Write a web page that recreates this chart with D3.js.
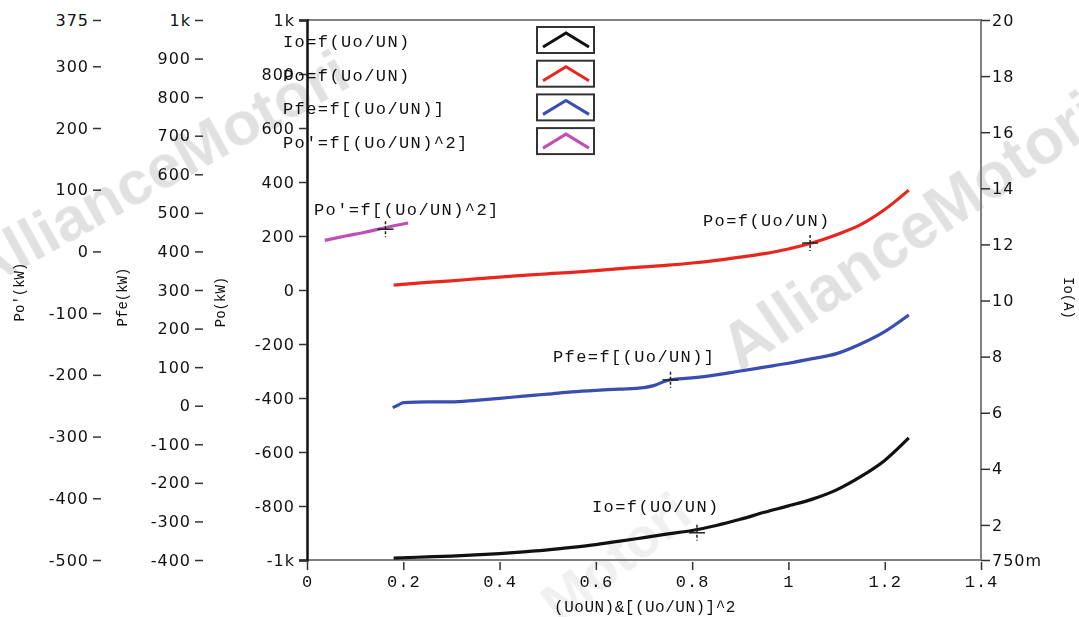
<!DOCTYPE html>
<html>
<head>
<meta charset="utf-8">
<script src="https://cdn.jsdelivr.net/npm/d3@7"></script>
<style>
  body { margin: 0; background: #fff; }
  svg { display: block; }
  .tick text { font-family: "DejaVu Sans", sans-serif; font-size: 16px; fill: #111; letter-spacing: 1px; }
  .mono { font-family: "Liberation Mono", "DejaVu Sans Mono", monospace; fill: #111; }
</style>
</head>
<body>
<svg id="chart" width="1079" height="617"></svg>
<script>
// ---- data ----
var ioX  = [0.18,0.25,0.3,0.35,0.4,0.45,0.5,0.55,0.6,0.65,0.7,0.75,0.8,0.85,0.9,0.95,1.0,1.05,1.1,1.15,1.2,1.25];
var ioY  = [0.82,0.86,0.89,0.93,0.98,1.04,1.11,1.2,1.3,1.42,1.55,1.68,1.8,1.98,2.2,2.45,2.68,2.92,3.25,3.72,4.3,5.1];

var poX  = [0.18,0.25,0.3,0.35,0.4,0.45,0.5,0.55,0.6,0.65,0.7,0.75,0.8,0.85,0.9,0.95,1.0,1.05,1.1,1.15,1.2,1.25];
var poY  = [18,28,34,41,48,54,60,65,72,79,86,92,100,110,122,135,152,175,205,242,298,370];

var pfeX = [0.178,0.19,0.2,0.25,0.3,0.35,0.4,0.45,0.5,0.55,0.6,0.65,0.7,0.72,0.75,0.8,0.85,0.9,0.95,1.0,1.05,1.1,1.15,1.2,1.25];
var pfeY = [-5,2,8,10,10,14,19,25,30,36,40,43,47,52,66,72,80,90,100,110,122,135,160,192,235];

var po2X = [0.037,0.08,0.12,0.16,0.21];
var po2Y = [18,25,31,38,46];

var xTicks   = [0,0.2,0.4,0.6,0.8,1,1.2,1.4];
var poTicks  = [1000,800,600,400,200,0,-200,-400,-600,-800,-1000];
var pfeTicks = [1000,900,800,700,600,500,400,300,200,100,0,-100,-200,-300,-400];
var po2Ticks = [375,300,200,100,0,-100,-200,-300,-400,-500];
var ioTicks  = [20,18,16,14,12,10,8,6,4,2,0.75];

var legendNames = ["Io=f(Uo/UN)","Po=f(Uo/UN)","Pfe=f[(Uo/UN)]","Po'=f[(Uo/UN)^2]"];
var colors = ["#111111","#e8261e","#3a4db0","#c04fb4"];

// ---- drawing ----
var svg = d3.select("#chart");
var mL = 307, mR = 981, mT = 20, mB = 560;

var x    = d3.scaleLinear().domain([0,1.4]).range([mL,mR]);
var yPo  = d3.scaleLinear().domain([-1000,1000]).range([mB,mT]);
var yPfe = d3.scaleLinear().domain([-400,1000]).range([mB,mT]);
var yPo2 = d3.scaleLinear().domain([-500,375]).range([mB,mT]);
var yIo  = d3.scaleLinear().domain([0.75,20]).range([mB,mT]);

function fmt(v){
  if (v === 1000) return "1k";
  if (v === -1000) return "-1k";
  if (v === 0.75) return "750m";
  return String(v);
}

// watermark
var wm = svg.append("g").attr("fill","#bdbdbd").attr("opacity",0.45)
  .style("font-family","Liberation Sans, sans-serif").style("font-weight","bold");
wm.append("text").attr("transform","translate(-20,292) rotate(-29)")
  .attr("font-size",62).text("AllianceMotori");
wm.append("text").attr("transform","translate(740,372) rotate(-34)")
  .attr("font-size",64).text("AllianceMotori");
wm.append("text").attr("transform","translate(560,625) rotate(-38)")
  .attr("font-size",56).attr("opacity",0.5).text("Motori");

// frame
svg.append("path")
  .attr("d","M"+mL+","+mT+"H"+mR+"V"+mB+"H"+mL)
  .attr("fill","none").attr("stroke","#808080").attr("stroke-width",2);

// axes
function sideAxis(axis, tx){
  var g = svg.append("g").attr("transform","translate("+tx+",0)").call(axis);
  g.selectAll(".tick line").attr("stroke","#333").attr("stroke-width",1.5);
  return g;
}
var gPo2 = sideAxis(d3.axisLeft(yPo2).tickValues(po2Ticks).tickFormat(fmt).tickSize(8).tickPadding(4), 101);
gPo2.select(".domain").remove();
var gPfe = sideAxis(d3.axisLeft(yPfe).tickValues(pfeTicks).tickFormat(fmt).tickSize(8).tickPadding(4), 203);
gPfe.select(".domain").remove();
var gPo = sideAxis(d3.axisLeft(yPo).tickValues(poTicks).tickFormat(fmt).tickSize(8).tickPadding(4), mL);
gPo.select(".domain").attr("stroke","#111").attr("stroke-width",2.5);
var gIo = sideAxis(d3.axisRight(yIo).tickValues(ioTicks).tickFormat(fmt).tickSize(9).tickPadding(2), mR);
gIo.select(".domain").remove();

var gx = svg.append("g").attr("transform","translate(0,"+(mB+2)+")")
  .call(d3.axisBottom(x).tickValues(xTicks).tickFormat(function(d){return String(d);}).tickSize(8).tickPadding(5));
gx.select(".domain").remove();
gx.selectAll(".tick line").attr("stroke","#333").attr("stroke-width",1.5);
gx.selectAll(".tick text").attr("class","mono").style("font-family","Liberation Mono, monospace")
  .style("font-size","17px").style("letter-spacing","1px");

// axis titles
svg.append("text").attr("class","mono").attr("font-size",14)
  .attr("transform","translate(24,292) rotate(-90)").attr("text-anchor","middle").text("Po'(kW)");
svg.append("text").attr("class","mono").attr("font-size",14)
  .attr("transform","translate(127,297) rotate(-90)").attr("text-anchor","middle").text("Pfe(kW)");
svg.append("text").attr("class","mono").attr("font-size",14)
  .attr("transform","translate(225,302) rotate(-90)").attr("text-anchor","middle").text("Po(kW)");
svg.append("text").attr("class","mono").attr("font-size",14)
  .attr("transform","translate(1064,298) rotate(90)").attr("text-anchor","middle").text("Io(A)");
svg.append("text").attr("class","mono").attr("font-size",16).attr("letter-spacing",0.5)
  .attr("x",645).attr("y",612).attr("text-anchor","middle").text("(UoUN)&[(Uo/UN)]^2");

// curves
function zip(xs, ys){ return xs.map(function(v,i){ return [v, ys[i]]; }); }
var series = [
  {data: zip(ioX, ioY),   y: yIo,  color: colors[0]},
  {data: zip(poX, poY),   y: yPo,  color: colors[1]},
  {data: zip(pfeX, pfeY), y: yPfe, color: colors[2]},
  {data: zip(po2X, po2Y), y: yPo2, color: colors[3]}
];
series.forEach(function(s){
  var line = d3.line().curve(d3.curveMonotoneX)
    .x(function(d){ return x(d[0]); })
    .y(function(d){ return s.y(d[1]); });
  svg.append("path").datum(s.data)
    .attr("d", line)
    .attr("fill","none").attr("stroke", s.color).attr("stroke-width",3.2)
    .attr("stroke-linejoin","round");
});

// curve annotations (cursor marks + labels)
var notes = [
  {x: 0.81,  v: 1.72, y: yIo,  lx: 592, ly: 512, text: "Io=f(UO/UN)"},
  {x: 1.045, v: 174,  y: yPo,  lx: 703, ly: 226, text: "Po=f(Uo/UN)"},
  {x: 0.755, v: 67,   y: yPfe, lx: 553, ly: 362, text: "Pfe=f[(Uo/UN)]"},
  {x: 0.163, v: 36,   y: yPo2, lx: 314, ly: 215, text: "Po'=f[(Uo/UN)^2]"}
];
notes.forEach(function(n){
  var cx = x(n.x), cy = n.y(n.v);
  svg.append("line").attr("x1",cx).attr("x2",cx).attr("y1",cy-8).attr("y2",cy+8)
    .attr("stroke","#222").attr("stroke-width",1.5).attr("stroke-dasharray","3,2");
  svg.append("line").attr("x1",cx-8).attr("x2",cx+8).attr("y1",cy).attr("y2",cy)
    .attr("stroke","#222").attr("stroke-width",1.5);
  svg.append("text").attr("class","mono").attr("font-size",17).attr("letter-spacing",1.4)
    .attr("x",n.lx).attr("y",n.ly).text(n.text);
});

// legend
var leg = svg.append("g");
legendNames.forEach(function(name,i){
  var yy = 27 + i*33.7;
  leg.append("text").attr("class","mono").attr("font-size",17).attr("letter-spacing",1.4)
    .attr("x",283).attr("y",yy+20).text(name);
  leg.append("rect").attr("x",537).attr("y",yy).attr("width",57).attr("height",26)
    .attr("fill","#fff").attr("stroke","#333").attr("stroke-width",2);
  leg.append("path").attr("d","M543,"+(yy+20)+"L566,"+(yy+6)+"L589,"+(yy+20))
    .attr("fill","none").attr("stroke",colors[i]).attr("stroke-width",3);
});
</script>
</body>
</html>
